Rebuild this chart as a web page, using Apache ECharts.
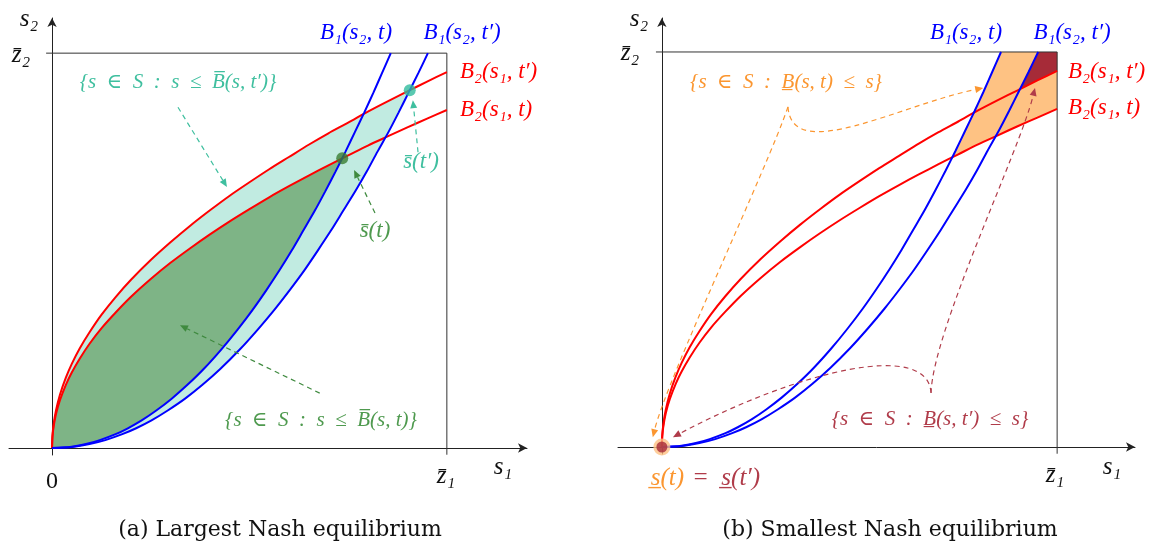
<!DOCTYPE html>
<html>
<head>
<meta charset="utf-8">
<script src="https://cdn.jsdelivr.net/npm/echarts@6/dist/echarts.min.js"></script>
<style>
    html, body { margin: 0; padding: 0; background: #fff; }
    #chart { width: 1166px; height: 548px; }
</style>
</head>
<body>
<div id="chart"></div>
<script>
// free coordinate of each best reply (in % of z̄)
const sGrid = [0, 0.1, 0.4, 1, 2, 3.5, 5, 7, 9.5, 12.5, 16, 20, 25, 30, 35, 40, 45, 50, 55, 60, 65, 70, 75, 80, 85, 90, 95, 100];
const b2T  = [0, 2.7, 5.4, 8.6, 12.1, 16.0, 19.1, 22.6, 26.4, 30.3, 34.2, 38.3, 42.8, 46.9, 50.6, 54.1, 57.4, 60.5, 63.5, 66.3, 69.0, 71.6, 74.1, 76.6, 78.9, 81.2, 83.4, 85.6];
const b2Tp = [0, 3.0, 6.0, 9.5, 13.5, 17.8, 21.3, 25.2, 29.3, 33.7, 38.1, 42.6, 47.6, 52.1, 56.3, 60.2, 63.9, 67.3, 70.6, 73.7, 76.8, 79.7, 82.4, 85.2, 87.8, 90.3, 92.8, 95.2];
const b1T  = [0, 2.7, 5.4, 8.6, 12.1, 16.1, 19.2, 22.7, 26.4, 30.3, 34.3, 38.4, 42.9, 47.0, 50.8, 54.3, 57.6, 60.7, 63.6, 66.5, 69.2, 71.8, 74.3, 76.7, 79.1, 81.4, 83.6, 85.8];
const b1Tp = [0, 3.0, 6.0, 9.5, 13.5, 17.8, 21.3, 25.2, 29.3, 33.7, 38.1, 42.6, 47.6, 52.1, 56.3, 60.2, 63.9, 67.3, 70.6, 73.7, 76.8, 79.7, 82.4, 85.2, 87.8, 90.3, 92.8, 95.2];
// equilibria
const sBarT  = [73.5, 73.4];
const sBarTp = [90.6, 90.6];
const sLow   = [0, 0];
const zBar = 100;

const redT   = sGrid.map((s, i) => [s, b2T[i]]);
const redTp  = sGrid.map((s, i) => [s, b2Tp[i]]);
const blueT  = sGrid.map((s, i) => [b1T[i], s]);
const blueTp = sGrid.map((s, i) => [b1Tp[i], s]);

// {s : s <= B(s,t)} : from origin up along B1, back down along B2
function lens(blue, red, meet) {
    const lower = blue.filter(p => p[1] < meet[1]);
    const upper = red.filter(p => p[0] < meet[0]).reverse();
    return lower.concat([meet], upper);
}
// {s : B(s,t) <= s} : the corner above B2 and right of B1
function corner(blue, red, meet) {
    const right = red.filter(p => p[0] > meet[0]);
    const top = blue.filter(p => p[1] > meet[1]).reverse();
    return [meet].concat(right, [[zBar, zBar]], top);
}

const C = {
    red: '#ff0000', blue: '#0000ff',
    teal: '#3fbf9f', tealFill: '#c1ebe1', tealDot: '#31bb9d',
    green: '#4f9a4f', greenArrow: '#3f8a3f', greenFill: '#7eb486', greenDot: '#3a7d32',
    orange: '#fb9630', orangeFill: '#fec283',
    dred: '#b03c4a', dredFill: '#a62b38'
};

// dashed annotation arrows in axis units: [from, to] or [from, c1, c2, to]
const arrowsA = [
    { color: C.teal, pts: [[31.9, 86.3], [44.3, 66.1]] },
    { color: C.teal, pts: [[92.7, 74.9], [91.4, 88.1]] },
    { color: C.greenArrow, pts: [[81.8, 59.5], [76.5, 70.4]] },
    { color: C.greenArrow, pts: [[67.8, 13.9], [32.4, 31.1]] }
];
const arrowsB = [
    { color: C.orange, pts: [[31.9, 86.1], [26.8, 70.9], [1.5, 17.7], [-2.3, 2.5]] },
    { color: C.orange, pts: [[31.9, 86.1], [32.9, 71.4], [60.3, 86.6], [81.3, 90.9]] },
    { color: C.dred, pts: [[68.1, 13.7], [68.6, 29.6], [90.6, 75.2], [94.4, 90.9]] },
    { color: C.dred, pts: [[68.1, 13.7], [67.3, 27.1], [34.9, 19.5], [2.8, 2.5]] }
];

const myChart = echarts.init(document.getElementById('chart'));

function axis(idx, min, max) {
    return {
        type: 'value', gridIndex: idx, min: min, max: max,
        splitLine: { show: false }, axisTick: { show: false }, axisLabel: { show: false },
        axisLine: { onZero: true, symbol: ['none', 'arrow'], symbolSize: [7, 9], lineStyle: { color: '#222', width: 1 } }
    };
}
function curve(idx, pts, color) {
    return {
        type: 'line', xAxisIndex: idx, yAxisIndex: idx, data: pts, showSymbol: false,
        smooth: 0.25, lineStyle: { color: color, width: 2 }, z: 3, silent: true
    };
}
function frame(idx) {
    return {
        type: 'line', xAxisIndex: idx, yAxisIndex: idx, showSymbol: false, z: 2, silent: true,
        data: [[-1.5, zBar], [zBar, zBar], [zBar, -1.7]],
        lineStyle: { color: '#333', width: 1 }
    };
}
function area(idx, pts, color, z) {
    return {
        type: 'custom', xAxisIndex: idx, yAxisIndex: idx, z: z, silent: true,
        data: [[0, 0]],
        renderItem: (params, api) => ({
            type: 'polygon',
            shape: { points: pts.map(p => api.coord(p)) },
            style: { fill: color }
        })
    };
}
function arrows(idx, list) {
    return {
        type: 'custom', xAxisIndex: idx, yAxisIndex: idx, z: 4, silent: true,
        data: list.map((a, i) => [i, 0]),
        renderItem: (params, api) => {
            const a = list[params.dataIndex];
            const px = a.pts.map(p => api.coord(p));
            const n = px.length;
            const tip = px[n - 1], prev = px[n - 2];
            const ang = Math.atan2(tip[1] - prev[1], tip[0] - prev[0]);
            const L = 8, W = 3.5;
            const bx = tip[0] - L * Math.cos(ang), by = tip[1] - L * Math.sin(ang);
            const head = [tip,
                [bx - W * Math.sin(ang), by + W * Math.cos(ang)],
                [bx + W * Math.sin(ang), by - W * Math.cos(ang)]];
            const dash = { stroke: a.color, lineWidth: 1.2, lineDash: [5, 4], fill: null };
            const body = n === 4
                ? { type: 'bezierCurve', shape: { x1: px[0][0], y1: px[0][1], cpx1: px[1][0], cpy1: px[1][1],
                    cpx2: px[2][0], cpy2: px[2][1], x2: bx, y2: by }, style: dash }
                : { type: 'line', shape: { x1: px[0][0], y1: px[0][1], x2: bx, y2: by }, style: dash };
            return {
                type: 'group',
                children: [body, { type: 'polygon', shape: { points: head }, style: { fill: a.color } }]
            };
        }
    };
}

const MATH = '"Liberation Serif", "DejaVu Serif", serif';
function tx(x, y, text, color, size, align, italic, family) {
    return {
        type: 'text', x: x, y: y, silent: true,
        style: {
            text: text, fill: color || '#111',
            fontStyle: italic === false ? 'normal' : 'italic',
            fontSize: size || 20,
            fontFamily: family || MATH,
            align: align || 'center', verticalAlign: 'middle'
        }
    };
}
const SP = '\u2002';

const option = {
    animation: false,
    grid: [
        { left: 9, top: 18, width: 518, height: 437 },
        { left: 618, top: 18, width: 517, height: 436 }
    ],
    xAxis: [axis(0, -10.9, 120.3), axis(1, -11.1, 119.7)],
    yAxis: [axis(0, -1.77, 108.9), axis(1, -1.77, 108.6)],
    series: [
        // (a) largest equilibrium
        area(0, lens(blueTp, redTp, sBarTp), C.tealFill, 1),
        area(0, lens(blueT, redT, sBarT), C.greenFill, 1),
        frame(0),
        curve(0, redTp, C.red), curve(0, redT, C.red),
        curve(0, blueT, C.blue), curve(0, blueTp, C.blue),
        arrows(0, arrowsA),
        { type: 'scatter', xAxisIndex: 0, yAxisIndex: 0, z: 6, silent: true, symbolSize: 12,
          data: [{ value: sBarT, itemStyle: { color: C.greenDot } }, { value: sBarTp, itemStyle: { color: C.tealDot } }] },
        // (b) smallest equilibrium
        area(1, corner(blueT, redT, sBarT), C.orangeFill, 1),
        area(1, corner(blueTp, redTp, sBarTp), C.dredFill, 1),
        frame(1),
        curve(1, redTp, C.red), curve(1, redT, C.red),
        curve(1, blueT, C.blue), curve(1, blueTp, C.blue),
        arrows(1, arrowsB),
        { type: 'scatter', xAxisIndex: 1, yAxisIndex: 1, z: 6, silent: true, symbolSize: 17,
          itemStyle: { color: C.orangeFill }, data: [sLow] },
        { type: 'scatter', xAxisIndex: 1, yAxisIndex: 1, z: 7, silent: true, symbolSize: 11,
          itemStyle: { color: C.dredFill }, data: [sLow] }
    ],
    graphic: [
        // panel (a)
        tx(29, 19, 's\u2082', '#111', 25), tx(21, 55, 'z\u0304\u2082', '#111', 25),
        tx(52, 482, '0', '#111', 24, 'center', false),
        tx(446, 476, 'z\u0304\u2081', '#111', 25), tx(503, 467, 's\u2081', '#111', 25),
        tx(356, 33, 'B\u2081(s\u2082, t)', C.blue, 23), tx(462, 33, 'B\u2081(s\u2082, t\u2032)', C.blue, 23),
        tx(460, 72, 'B\u2082(s\u2081, t\u2032)', C.red, 23, 'left'), tx(460, 110, 'B\u2082(s\u2081, t)', C.red, 23, 'left'),
        tx(178, 82, '{s' + SP + '\u2208' + SP + 'S' + SP + ':' + SP + 's' + SP + '\u2264' + SP + 'B\u0305(s, t\u2032)}', C.teal, 21),
        tx(321, 420, '{s' + SP + '\u2208' + SP + 'S' + SP + ':' + SP + 's' + SP + '\u2264' + SP + 'B\u0305(s, t)}', C.green, 21),
        tx(421, 162, 's\u0304(t\u2032)', C.teal, 23), tx(375, 231, 's\u0304(t)', C.green, 23),
        tx(280, 530, '(a) Largest Nash equilibrium', '#111', 22, 'center', false, '"DejaVu Serif", serif'),
        // panel (b)
        tx(639, 19, 's\u2082', '#111', 25), tx(630, 53, 'z\u0304\u2082', '#111', 25),
        tx(1055, 475, 'z\u0304\u2081', '#111', 25), tx(1112, 467, 's\u2081', '#111', 25),
        tx(966, 33, 'B\u2081(s\u2082, t)', C.blue, 23), tx(1072, 33, 'B\u2081(s\u2082, t\u2032)', C.blue, 23),
        tx(1068, 72, 'B\u2082(s\u2081, t\u2032)', C.red, 23, 'left'), tx(1068, 108, 'B\u2082(s\u2081, t)', C.red, 23, 'left'),
        tx(786, 82, '{s' + SP + '\u2208' + SP + 'S' + SP + ':' + SP + 'B\u0332(s, t)' + SP + '\u2264' + SP + 's}', C.orange, 21),
        tx(930, 419, '{s' + SP + '\u2208' + SP + 'S' + SP + ':' + SP + 'B\u0332(s, t\u2032)' + SP + '\u2264' + SP + 's}', C.dred, 21),
        tx(684, 478, 's\u0332(t)', C.orange, 25, 'right'),
        tx(692, 478, '=' + SP + 's\u0332(t\u2032)', C.dred, 25, 'left'),
        tx(890, 530, '(b) Smallest Nash equilibrium', '#111', 22, 'center', false, '"DejaVu Serif", serif')
    ]
};

myChart.setOption(option);
window.onresize = () => {
    myChart.resize();
};
</script>
</body>
</html>
